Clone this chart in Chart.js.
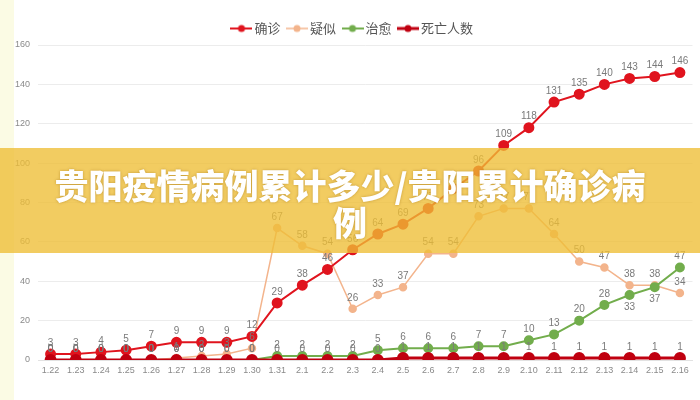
<!DOCTYPE html>
<html>
<head>
<meta charset="utf-8">
<script src="https://cdn.jsdelivr.net/npm/chart.js@4"></script>
<style>
html, body { margin: 0; padding: 0; background: #fff; }
#wrap { position: relative; width: 700px; height: 400px; }
#strip { position: absolute; left: 0; top: 0; width: 14px; height: 400px; background: #fbfbe4; }
#banner {
        position: absolute; left: 0; top: 148px; width: 700px; height: 105px;
        background: rgba(238, 190, 52, 0.78);
        color: #fff; text-align: center;
        font: 900 34px 'Noto Sans CJK SC', sans-serif;
        line-height: 37px; padding-top: 18px; box-sizing: border-box;
        text-shadow: 0 0 3px rgba(140, 90, 0, 0.45);
}
</style>
</head>
<body>
<div id="wrap">
        <canvas id="canvas" width="700" height="400"></canvas>
        <div id="strip"></div>
        <div id="banner">贵阳疫情病例累计多少/贵阳累计确诊病<br>例</div>
</div>
<script>
var days = ['1.22', '1.23', '1.24', '1.25', '1.26', '1.27', '1.28', '1.29', '1.30', '1.31',
        '2.1', '2.2', '2.3', '2.4', '2.5', '2.6', '2.7', '2.8', '2.9', '2.10',
        '2.11', '2.12', '2.13', '2.14', '2.15', '2.16'];
var confirmed = [3, 3, 4, 5, 7, 9, 9, 9, 12, 29, 38, 46, 56, 64, 69, 77, 87, 96, 109, 118, 131, 135, 140, 143, 144, 146];
var suspected = [0, 0, 0, 0, 0, 1, 2, 3, 6, 67, 58, 54, 26, 33, 37, 54, 54, 73, 77, 77, 64, 50, 47, 38, 38, 34];
var cured = [0, 0, 0, 0, 0, 0, 0, 0, 0, 2, 2, 2, 2, 5, 6, 6, 6, 7, 7, 10, 13, 20, 28, 33, 37, 47];
var deaths = [0, 0, 0, 0, 0, 0, 0, 0, 0, 0, 0, 0, 0, 0, 1, 1, 1, 1, 1, 1, 1, 1, 1, 1, 1, 1];
var yTicks = [0, 20, 40, 60, 80, 100, 120, 140, 160];

// little line-with-dot icon for the legend
function legendIcon(color, width) {
        var c = document.createElement('canvas');
        c.width = 22; c.height = 10;
        var g = c.getContext('2d');
        g.strokeStyle = color; g.lineWidth = width;
        g.beginPath(); g.moveTo(0, 5); g.lineTo(22, 5); g.stroke();
        g.fillStyle = color;
        g.beginPath(); g.arc(11, 5, 3.5, 0, Math.PI * 2); g.fill();
        return c;
}

// value labels over every point
var valueLabels = {
        id: 'valueLabels',
        afterDatasetsDraw: function(chart) {
                var ctx = chart.ctx;
                ctx.save();
                ctx.font = '10px "Liberation Sans", sans-serif';
                ctx.fillStyle = '#7a7a7a';
                ctx.textAlign = 'center';
                chart.data.datasets.forEach(function(ds, i) {
                        var meta = chart.getDatasetMeta(i);
                        meta.data.forEach(function(pt, j) {
                                var below = ds.labelsBelow && ds.labelsBelow.indexOf(j) >= 0;
                                ctx.textBaseline = below ? 'top' : 'bottom';
                                ctx.fillText(ds.data[j], pt.x, below ? pt.y + 7 : pt.y - 6);
                        });
                });
                ctx.restore();
        }
};

var config = {
        type: 'line',
        data: {
                labels: days,
                datasets: [{
                        label: '确诊',
                        data: confirmed,
                        borderColor: '#e0141e',
                        backgroundColor: '#e0141e',
                        borderWidth: 2,
                        pointRadius: 4.5,
                        order: 1
                }, {
                        label: '疑似',
                        data: suspected,
                        borderColor: '#f3b48c',
                        backgroundColor: '#f3b48c',
                        borderWidth: 1.5,
                        pointRadius: 3.5,
                        order: 2
                }, {
                        label: '治愈',
                        data: cured,
                        borderColor: '#72ad4c',
                        backgroundColor: '#72ad4c',
                        borderWidth: 2,
                        pointRadius: 4,
                        order: 1,
                        labelsBelow: [23, 24]
                }, {
                        label: '死亡人数',
                        data: deaths,
                        borderColor: '#c00010',
                        backgroundColor: '#c00010',
                        borderWidth: 3,
                        pointRadius: 4.5,
                        order: 0
                }]
        },
        options: {
                responsive: false,
                animation: false,
                layout: { padding: { left: 10, right: 2, top: 12, bottom: 0 } },
                plugins: {
                        tooltip: { enabled: false },
                        legend: {
                                display: true,
                                position: 'top',
                                labels: {
                                        usePointStyle: true,
                                        padding: 10,
                                        color: '#555',
                                        font: { size: 13, family: "'Noto Sans CJK SC', sans-serif" },
                                        generateLabels: function(chart) {
                                                return chart.data.datasets.map(function(ds, i) {
                                                        return {
                                                                text: ds.label,
                                                                pointStyle: legendIcon(ds.borderColor, ds.borderWidth),
                                                                fillStyle: ds.borderColor,
                                                                strokeStyle: ds.borderColor,
                                                                fontColor: '#555',
                                                                datasetIndex: i
                                                        };
                                                });
                                        }
                                }
                        }
                },
                scales: {
                        x: {
                                offset: true,
                                grid: { display: false, drawTicks: false },
                                border: { display: true, color: '#e2e2e2' },
                                ticks: {
                                        color: '#8a8a8a', padding: 5, maxRotation: 0, autoSkip: false,
                                        font: { size: 9, family: "'Liberation Sans', sans-serif" }
                                },
                                afterFit: function(s) { s.height = 40; }
                        },
                        y: {
                                min: 0, max: 160,
                                afterBuildTicks: function(s) { s.ticks = yTicks.map(function(v) { return { value: v }; }); },
                                grid: { color: '#ececec', drawTicks: false },
                                border: { display: false },
                                ticks: {
                                        color: '#8a8a8a', padding: 8,
                                        font: { size: 9, family: "'Liberation Sans', sans-serif" }
                                },
                                afterFit: function(s) { s.width = 28; }
                        }
                }
        },
        plugins: [valueLabels]
};

window.onload = function() {
        var ctx = document.getElementById('canvas').getContext('2d');
        window.myLine = new Chart(ctx, config);
};
</script>
</body>
</html>
